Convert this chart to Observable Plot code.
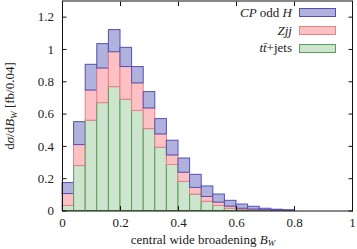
<!DOCTYPE html>
<html>
<head>
<meta charset="utf-8">
<script src="https://cdn.jsdelivr.net/npm/d3@7"></script>
<script src="https://cdn.jsdelivr.net/npm/@observablehq/plot@0.6"></script>
<style>
  html, body { margin: 0; padding: 0; background: #fff; }
  #wrap { position: relative; width: 357px; height: 249px; font-family: "Liberation Serif", serif; }
  .legend { position: absolute; left: 200px; width: 136px; top: 4px; font-size: 13px; color: #222; }
  .legend .row { display: flex; align-items: center; justify-content: flex-end; height: 17.8px; }
  .legend .sw { width: 35px; height: 7px; margin-left: 7px; border: 1px solid; flex: none; }
  i { font-style: italic; }
</style>
</head>
<body>
<div id="wrap"></div>
<script>
// bin left edges (width 0.04)
const binWidth = 0.04;
const binStarts = d3.range(20).map(i => +(i * binWidth).toFixed(2));
// cumulative stack tops
const ttjets = [0.031, 0.278, 0.559, 0.668, 0.767, 0.689, 0.619, 0.507, 0.392, 0.285,
                0.180, 0.102, 0.057, 0.031, 0.014, 0.008, 0.004, 0.002, 0.001, 0.000];
const zjjTop = [0.105, 0.408, 0.746, 0.882, 0.983, 0.891, 0.790, 0.635, 0.474, 0.344,
                0.237, 0.143, 0.087, 0.052, 0.027, 0.014, 0.009, 0.005, 0.003, 0.001];
const cpTop  = [0.173, 0.550, 0.905, 1.033, 1.120, 1.010, 0.891, 0.736, 0.569, 0.435,
                0.325, 0.224, 0.152, 0.102, 0.063, 0.040, 0.026, 0.014, 0.008, 0.005];
const seriesNames = ["ttjets", "Zjj", "CPoddH"];
const fills   = ["#cde5cd", "#fbc1c5", "#b1b1de"];
const strokes = ["#5c9c5c", "#ef7f87", "#5252b2"];
const xTicks = [0, 0.2, 0.4, 0.6, 0.8, 1];
const yTicks = [0, 0.2, 0.4, 0.6, 0.8, 1, 1.2];

const rows = [];
binStarts.forEach((x, i) => {
  rows.push({x1: x, x2: x + binWidth, y: ttjets[i], s: "ttjets"});
  rows.push({x1: x, x2: x + binWidth, y: zjjTop[i] - ttjets[i], s: "Zjj"});
  rows.push({x1: x, x2: x + binWidth, y: cpTop[i] - zjjTop[i], s: "CPoddH"});
});

const fmt = d => String(d);
const blank = () => "";

const chart = Plot.plot({
  width: 357, height: 249,
  marginLeft: 62, marginRight: 5, marginTop: 0.5, marginBottom: 38.5,
  style: {fontFamily: "Liberation Serif, serif", fontSize: "13px", color: "#222", background: "#fff"},
  x: {domain: [0, 1], label: null},
  y: {domain: [0, 1.3], label: null},
  color: {domain: seriesNames, range: fills},
  marks: [
    Plot.rectY(rows, {x1: "x1", x2: "x2", y: "y", fill: "s", order: seriesNames, stroke: "s", strokeWidth: 1}),
    Plot.axisX({anchor: "bottom", ticks: xTicks, tickFormat: fmt, tickSize: -4.5, tickPadding: 11, fontSize: 13, stroke: "#111"}),
    Plot.axisX({anchor: "top", ticks: xTicks, tickFormat: blank, tickSize: -4.5, stroke: "#111"}),
    Plot.axisY({anchor: "left", ticks: yTicks, tickFormat: fmt, tickSize: -4.5, tickPadding: 13, fontSize: 13, stroke: "#111"}),
    Plot.axisY({anchor: "right", ticks: yTicks, tickFormat: blank, tickSize: -4.5, stroke: "#111"}),
    Plot.frame({stroke: "#111", strokeWidth: 1})
  ]
});

// stroke colours per series
d3.select(chart).selectAll("g[aria-label='rect'] rect").each(function() {
  const f = d3.select(this).attr("fill");
  const i = fills.indexOf(f);
  if (i >= 0) d3.select(this).attr("stroke", strokes[i]);
});

const svg = d3.select(chart);
// x axis label
const xl = svg.append("text").attr("x", 203).attr("y", 243.5).attr("text-anchor", "middle")
  .attr("font-size", 13).attr("fill", "#222");
xl.append("tspan").text("central wide broadening ");
xl.append("tspan").attr("font-style", "italic").text("B");
xl.append("tspan").attr("font-style", "italic").attr("font-size", 9).attr("dy", 2.5).text("W");
// y axis label
const yl = svg.append("text").attr("transform", "translate(14,106) rotate(-90)").attr("text-anchor", "middle")
  .attr("font-size", 13).attr("fill", "#222");
yl.append("tspan").text("d");
yl.append("tspan").attr("font-style", "italic").text("σ");
yl.append("tspan").text("/d");
yl.append("tspan").attr("font-style", "italic").text("B");
yl.append("tspan").attr("font-style", "italic").attr("font-size", 9).attr("dy", 3).text("W");
yl.append("tspan").attr("dy", -3).text(" [fb/0.04]");

const wrap = document.getElementById("wrap");
wrap.appendChild(chart);

// legend (top right, inside frame)
const legendItems = [
  {html: "<i>CP</i> odd <i>H</i>", k: 2},
  {html: "<i>Zjj</i>", k: 1},
  {html: "<i>tt\u0304</i>+jets", k: 0}
];
const lg = document.createElement("div");
lg.className = "legend";
legendItems.forEach(it => {
  const r = document.createElement("div");
  r.className = "row";
  r.innerHTML = `<span>${it.html}</span><span class="sw" style="background:${fills[it.k]};border-color:${strokes[it.k]}"></span>`;
  lg.appendChild(r);
});
wrap.appendChild(lg);
</script>
</body>
</html>
